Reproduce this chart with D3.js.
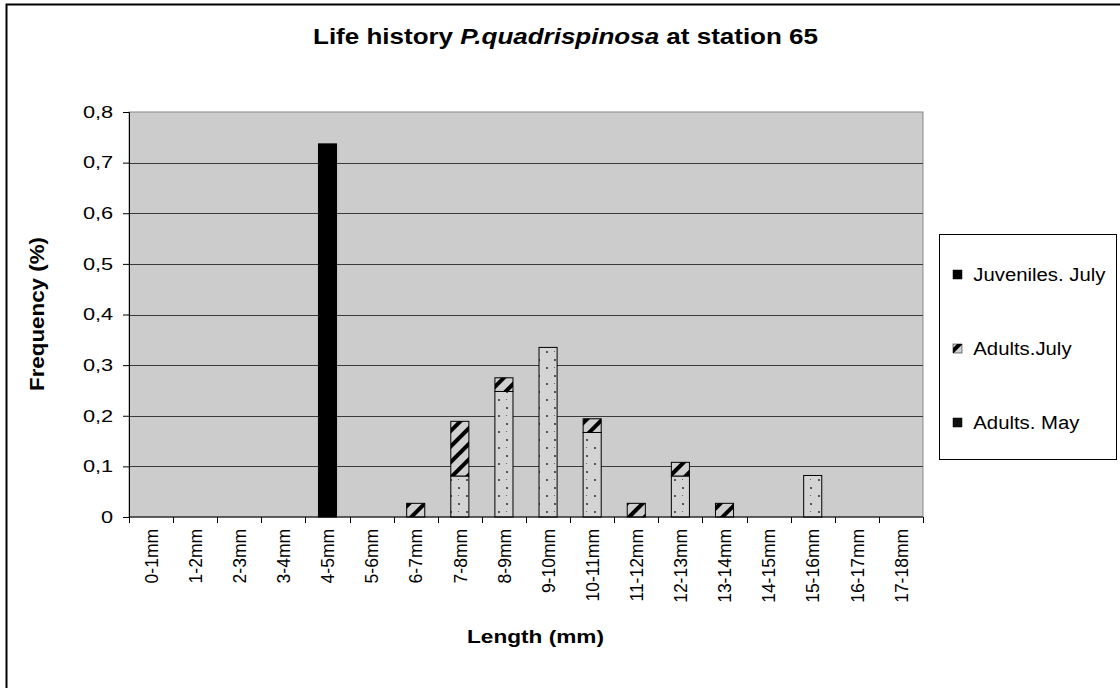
<!DOCTYPE html>
<meta charset="utf-8">
<script src="https://d3js.org/d3.v7.min.js"></script>
<style>
  body { margin: 0; background: #fff; }
  text { font-family: Arial, "Liberation Sans", sans-serif; }
</style>
<div id="chart"></div>
<script>
  // categories and series values
  var lengths = ["0-1mm","1-2mm","2-3mm","3-4mm","4-5mm","5-6mm","6-7mm","7-8mm","8-9mm",
                 "9-10mm","10-11mm","11-12mm","12-13mm","13-14mm","14-15mm","15-16mm","16-17mm","17-18mm"];
  var adultsMay    = [0,0,0,0,0,0,0,0.081,0.248,0.335,0.167,0,0.081,0,0,0.082,0,0];
  var adultsJuly   = [0,0,0,0,0,0,0.027,0.108,0.027,0,0.027,0.027,0.027,0.027,0,0,0,0];
  var juvenilesJuly= [0,0,0,0,0.737,0,0,0,0,0,0,0,0,0,0,0,0,0];
  var yTicks = [0,0.1,0.2,0.3,0.4,0.5,0.6,0.7,0.8];
  var legendNames = ["Juveniles. July","Adults.July","Adults. May"];

  var W = 1120, H = 688;
  var margin = {top: 112, right: 197, bottom: 171, left: 129},
      width = W - margin.left - margin.right,
      height = H - margin.top - margin.bottom;

  var svg = d3.select("#chart").append("svg")
      .attr("width", W).attr("height", H);

  // fill patterns (dotted for May, hatched for July adults)
  var defs = svg.append("defs");
  var dots = defs.append("pattern").attr("id","dots")
      .attr("patternUnits","userSpaceOnUse").attr("width",16).attr("height",16)
      .attr("x", margin.left + 2).attr("y", 4);
  dots.append("rect").attr("width",16).attr("height",16).attr("fill","#d4d4d4");
  dots.append("rect").attr("x",6).attr("y",3).attr("width",2).attr("height",2).attr("fill","#555");
  dots.append("rect").attr("x",14).attr("y",11).attr("width",2).attr("height",2).attr("fill","#555");
  dots.append("rect").attr("x",6).attr("y",11).attr("width",1).attr("height",1).attr("fill","#666");

  var hatch = defs.append("pattern").attr("id","hatch")
      .attr("patternUnits","userSpaceOnUse").attr("width",11).attr("height",11)
      .attr("patternTransform","rotate(45)");
  hatch.append("rect").attr("width",11).attr("height",11).attr("fill","#d0d0d0");
  hatch.append("rect").attr("x",0).attr("width",4).attr("height",11).attr("fill","#000");

  // outer frame
  svg.append("rect").attr("x",6.5).attr("y",4.5).attr("width",W).attr("height",H)
      .attr("fill","none").attr("stroke","#000").attr("stroke-width",2);

  // title
  var title = svg.append("text").attr("x", 313).attr("y", 44)
      .attr("font-size", 22).attr("font-weight","bold")
      .attr("textLength", 505).attr("lengthAdjust","spacingAndGlyphs");
  title.append("tspan").text("Life history ");
  title.append("tspan").attr("font-style","italic").text("P.quadrispinosa");
  title.append("tspan").text(" at station 65");

  var g = svg.append("g").attr("transform","translate("+margin.left+","+margin.top+")");

  var x = d3.scaleBand().domain(lengths).range([0, width])
      .paddingInner(0.59).paddingOuter(0.295);
  var y = d3.scaleLinear().domain([0, 0.8]).range([height, 0]);

  // plot area background
  g.append("rect").attr("width", width).attr("height", height)
      .attr("fill","#cccccc").attr("stroke","#888").attr("stroke-width",1);

  // gridlines
  g.append("g").selectAll("line").data(yTicks.slice(1, -1)).enter().append("line")
      .attr("x1",0).attr("x2",width)
      .attr("y1",function(d){return Math.round(y(d))+0.5;})
      .attr("y2",function(d){return Math.round(y(d))+0.5;})
      .attr("stroke","#3a3a3a").attr("stroke-width",1);

  // stacked bars
  var table = lengths.map(function(l,i){
    return {len: l, may: adultsMay[i], july: adultsJuly[i], juv: juvenilesJuly[i]};
  });
  var stack = d3.stack().keys(["may","july","juv"])(table);
  var fills = {may: "url(#dots)", july: "url(#hatch)", juv: "#000"};

  g.append("g").selectAll("g").data(stack).enter().append("g")
      .attr("fill", function(s){return fills[s.key];})
      .selectAll("rect")
      .data(function(s){return s.filter(function(d){return d[1]-d[0] > 0;});})
      .enter().append("rect")
        .attr("x", function(d){return x(d.data.len);})
        .attr("y", function(d){return y(d[1]);})
        .attr("width", x.bandwidth())
        .attr("height", function(d){return y(d[0]) - y(d[1]);})
        .attr("stroke","#000").attr("stroke-width",1);

  // y axis
  var yAxis = g.append("g")
      .call(d3.axisLeft(y).tickValues(yTicks).tickSize(6)
        .tickFormat(function(d){return d === 0 ? "0" : d3.format(".1f")(d).replace(".", ",");}));
  yAxis.select(".domain").attr("stroke","#000");
  yAxis.selectAll("text").attr("font-size", 16.5).attr("fill","#000")
      .attr("font-family","Arial, 'Liberation Sans', sans-serif")
      .attr("x", -12).attr("transform","scale(1.32,1)");

  // x axis with ticks on category boundaries
  var xAxis = g.append("g").attr("transform","translate(0,"+height+")");
  xAxis.append("line").attr("x1",0).attr("x2",width).attr("stroke","#000");
  var step = x.step();
  xAxis.selectAll("line.tk").data(d3.range(lengths.length + 1)).enter().append("line")
      .attr("class","tk")
      .attr("x1",function(i){return Math.round(i*step)+0.5;})
      .attr("x2",function(i){return Math.round(i*step)+0.5;})
      .attr("y1",0).attr("y2",6).attr("stroke","#000");
  xAxis.selectAll("text").data(lengths).enter().append("text")
      .attr("transform", function(d){
        return "translate(" + (x(d) + x.bandwidth()/2) + ",12) scale(1.1,1) rotate(-90)";
      })
      .attr("dy","0.35em")
      .attr("text-anchor","end").attr("font-size",17.5).text(function(d){return d;});

  // axis titles
  svg.append("text").attr("x", 467).attr("y", 643)
      .attr("font-size",19).attr("font-weight","bold")
      .attr("textLength",137).attr("lengthAdjust","spacingAndGlyphs")
      .text("Length (mm)");
  svg.append("text").attr("transform","translate(44,391) rotate(-90)")
      .attr("font-size",20).attr("font-weight","bold")
      .attr("textLength",154).attr("lengthAdjust","spacingAndGlyphs")
      .text("Frequency (%)");

  // legend
  var lg = svg.append("g").attr("transform","translate(939,234)");
  lg.append("rect").attr("x",0.5).attr("y",0.5).attr("width",177).attr("height",225)
      .attr("fill","#fff").attr("stroke","#000");
  var legFills = ["#000","url(#hatch)","#111"];
  var item = lg.selectAll("g.it").data(legendNames).enter().append("g")
      .attr("transform", function(d,i){return "translate(14," + (40 + i*74) + ")";});
  item.append("rect").attr("x",0).attr("y",-4).attr("width",9).attr("height",9)
      .attr("fill", function(d,i){return legFills[i];}).attr("stroke","#000").attr("stroke-width",0.5);
  item.append("text").attr("x",19).attr("y",7).attr("font-size",19)
      .attr("transform","scale(1.07,1)")
      .text(function(d){return d;});
</script>
